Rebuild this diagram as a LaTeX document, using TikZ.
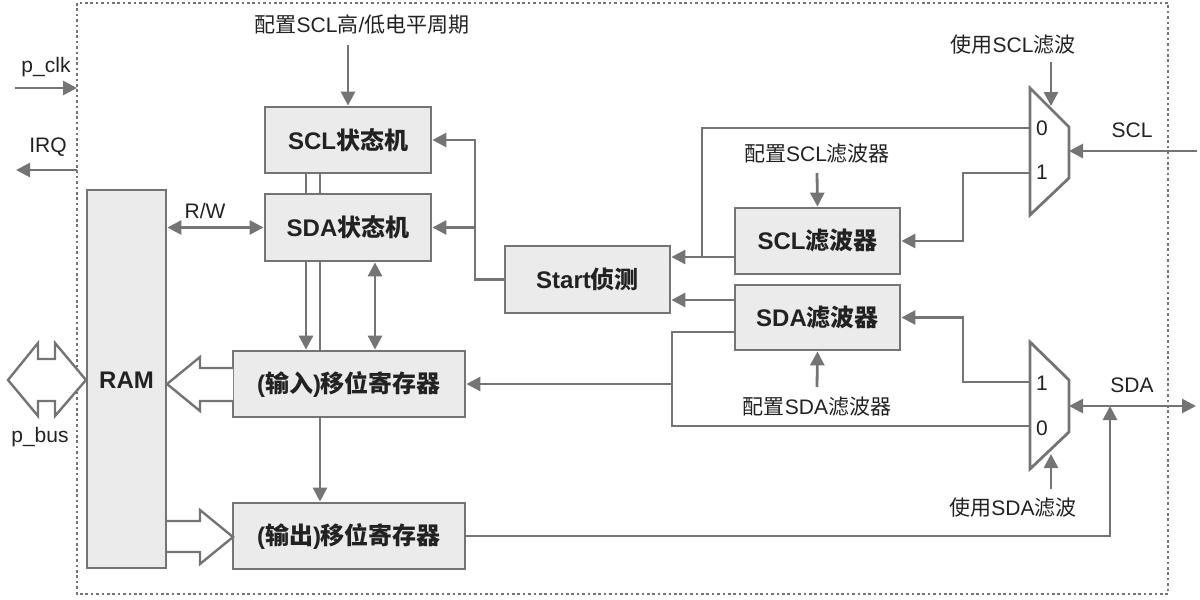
\documentclass[tikz,border=0pt]{standalone}
\usepackage{fontspec}
\setmainfont{Liberation Sans}
\newfontfamily\cjkf{Noto Sans CJK SC}
\newcommand\zhc[1]{{\cjkf #1}}
\usetikzlibrary{arrows.meta}
\definecolor{lc}{HTML}{747474}
\definecolor{bf}{HTML}{EBEBEB}
\definecolor{tc}{HTML}{222222}
\begin{document}
\begin{tikzpicture}[x=1pt,y=-1pt,
  ln/.style={draw=lc, line width=2.8pt},
  arr/.style={ln, -{Triangle[length=14pt,width=14pt]}},
  arrb/.style={ln, {Triangle[length=14pt,width=14pt]}-{Triangle[length=14pt,width=14pt]}},
  box/.style={draw=lc, fill=bf, line width=2.8pt, inner sep=0pt, text=tc, font=\bfseries\fontsize{24}{28}\selectfont},
  lbl/.style={inner sep=0pt, text=tc, font=\fontsize{21}{25}\selectfont},
  hol/.style={draw=lc, fill=white, line width=2.4pt, line join=miter},
  border/.style={draw=lc, line width=2.8pt, dash pattern=on 2.6pt off 2.8pt},
  mux/.style={draw=lc, fill=white, line width=2.8pt, line join=miter},
]
\useasboundingbox (0,0) rectangle (1200,600);

% border
\draw[border] (77,3) rectangle (1168,594);

% boxes
\node[box, minimum width=166pt, minimum height=66pt] (sclsm) at (348,140) {SCL\zhc{状态机}};
\node[box, minimum width=166pt, minimum height=67pt] (sdasm) at (348,227.5) {SDA\zhc{状态机}};
\node[box, minimum width=79pt, minimum height=378pt] (ram) at (126.5,379) {};
\node[box, draw=none, fill=none] (ramt) at (126.5,380) {RAM};
\node[box, minimum width=232pt, minimum height=66pt] (inreg) at (349,384) {(\zhc{输入})\zhc{移位寄存器}};
\node[box, minimum width=232pt, minimum height=66pt] (outreg) at (349,536) {(\zhc{输出})\zhc{移位寄存器}};
\node[box, minimum width=165pt, minimum height=67pt] (start) at (587.5,279.5) {Start\zhc{侦测}};
\node[box, minimum width=165pt, minimum height=66pt] (sclf) at (817.5,241) {SCL\zhc{滤波器}};
\node[box, minimum width=165pt, minimum height=65pt] (sdaf) at (817.5,317.5) {SDA\zhc{滤波器}};

% labels
\node[lbl] (pclk) at (46,67) {p\_clk};
\node[lbl] (irq) at (48,147) {IRQ};
\node[lbl] (pbus) at (40,437) {p\_bus};
\node[lbl] (rw) at (205,211) {R/W};
\node[lbl] (cfgsclp) at (362,25) {\zhc{配置}SCL\zhc{高}/\zhc{低电平周期}};
\node[lbl] (cfgsclf) at (817,154) {\zhc{配置}SCL\zhc{滤波器}};
\node[lbl] (cfgsdaf) at (817,407) {\zhc{配置}SDA\zhc{滤波器}};
\node[lbl] (usescl) at (1013,45) {\zhc{使用}SCL\zhc{滤波}};
\node[lbl] (usesda) at (1013,508) {\zhc{使用}SDA\zhc{滤波}};
\node[lbl] (scllbl) at (1132,130) {SCL};
\node[lbl] (sdalbl) at (1132,385) {SDA};

% muxes
\draw[mux] (1030,88) -- (1069,127) -- (1069,178) -- (1030,215) -- cycle;
\draw[mux] (1030,342) -- (1069,380) -- (1069,432) -- (1030,469) -- cycle;
\node[lbl] (m1z) at (1042,128) {0};
\node[lbl] (m1o) at (1042,172) {1};
\node[lbl] (m2o) at (1042,383) {1};
\node[lbl] (m2z) at (1042,428) {0};

% coordinates
\coordinate (pclkS) at (15,88);
\coordinate (pclkE) at (77,88);
\coordinate (irqS) at (77,170);
\coordinate (irqE) at (16,170);
\coordinate (cfgA) at (348,45);
\coordinate (sm0) at (1030,128);
\coordinate (sm1) at (1030,173);
\coordinate (smo) at (1069,151);
\coordinate (sms) at (1051,106);
\coordinate (smsS) at (1051,62);
\coordinate (sclin) at (1197,151);
\coordinate (dm1) at (1030,382);
\coordinate (dm0) at (1030,426);
\coordinate (dmo) at (1069,406);
\coordinate (dms) at (1051,454);
\coordinate (dmsS) at (1051,489);
\coordinate (sdaout) at (1196,406);
\coordinate (sdaj) at (1110,406);
\coordinate (jx) at (475,0);
\coordinate (y257) at (0,257);
\coordinate (y300) at (0,300);
\coordinate (y332) at (0,332);
\coordinate (y384) at (0,384);
\coordinate (x702) at (702,0);
\coordinate (x963) at (963,0);
\coordinate (x672) at (672,0);
\coordinate (cfgfA) at (817,173);
\coordinate (cfgdA) at (817,387);

% external arrows
\draw[arr] (pclkS) -- (pclkE);
\draw[arr] (irqS) -- (irqE);

% p_bus double hollow arrow
\draw[hol] (8,380) -- (38,343) -- (38,359) -- (55,359) -- (55,343) -- (86,380) -- (55,416) -- (55,401) -- (38,401) -- (38,416) -- cycle;
% inreg -> RAM hollow
\draw[hol] (233,368) -- (200,368) -- (200,357) -- (167,384) -- (200,411) -- (200,401) -- (233,401);
% RAM -> outreg hollow
\draw[hol] (167,521) -- (200,521) -- (200,510) -- (233,537) -- (200,564) -- (200,552) -- (167,552);

% state machines
\draw[arr] (cfgA) -- (sclsm.north);
\draw[ln] ([xshift=-42pt]sclsm.south) -- ([xshift=-42pt]sdasm.north);
\draw[ln] ([xshift=-28pt]sclsm.south) -- ([xshift=-28pt]sdasm.north);
\draw[arr] ([xshift=-42pt]sdasm.south) -- ([xshift=-43pt]inreg.north);
\draw[ln] ([xshift=-28pt]sdasm.south) -- ([xshift=-29pt]inreg.north);
\draw[arr] ([xshift=-29pt]inreg.south) -- ([xshift=-29pt]outreg.north);
\draw[arrb] ([xshift=27pt]sdasm.south) -- ([xshift=26pt]inreg.north);
\draw[arrb] (ram.east |- sdasm.west) -- (sdasm.west);

% start detect
\draw[arr] (start.west) -| (jx |- sclsm.east) -- (sclsm.east);
\draw[arr] (jx |- sdasm.east) -- (sdasm.east);
\draw[arr] (sclf.west |- y257) -- (start.east |- y257);
\draw[arr] (sdaf.west |- y300) -- (start.east |- y300);

% SCL path
\draw[arr] (sclin) -- (smo);
\draw[arr] (smsS) -- (sms);
\draw[ln] (sm0) -| (x702 |- y257);
\draw[arr] (sm1) -| (x963 |- sclf.east) -- (sclf.east);
\draw[arr] (cfgfA) -- (sclf.north);

% SDA path
\draw[arrb] (dmo) -- (sdaout);
\draw[arr] (outreg.east) -| (sdaj);
\draw[arr] (dmsS) -- (dms);
\draw[arr] (dm1) -| (x963 |- sdaf.east) -- (sdaf.east);
\draw[ln] (dm0) -| (x672 |- y332) -- (sdaf.west |- y332);
\draw[arr] (x672 |- y384) -- (inreg.east);
\draw[arr] (cfgdA) -- (sdaf.south);
\end{tikzpicture}
\end{document}
